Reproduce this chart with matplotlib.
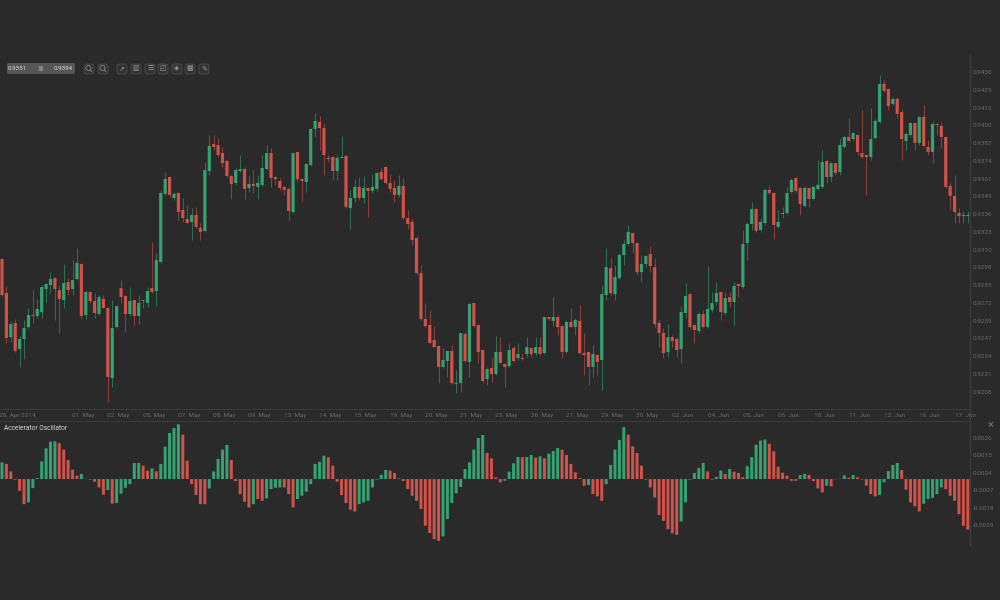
"""Candlestick chart with an Accelerator Oscillator panel on a dark terminal background."""

from __future__ import annotations

import matplotlib

matplotlib.use("Agg")

import matplotlib.pyplot as plt
import numpy as np
from matplotlib.patches import Ellipse, FancyBboxPatch, Rectangle

# candle values in 1/10000 of a price unit
body_top = [
    9303.5, 9279.0, 9256.8, 9257.5, 9246.0, 9253.9, 9263.3, 9263.3, 9267.6, 9283.4,
    9285.5, 9289.1, 9289.9, 9281.2, 9286.3, 9287.0, 9288.4, 9300.7, 9299.9, 9279.8,
    9279.8, 9273.3, 9276.2, 9274.8, 9268.3, 9253.9, 9269.7, 9282.6, 9277.0, 9273.3,
    9274.0, 9271.9, 9274.0, 9280.5, 9282.6, 9302.8, 9351.0, 9361.0, 9362.5, 9350.3,
    9351.0, 9338.8, 9332.3, 9335.2, 9335.2, 9325.8, 9367.5, 9384.8, 9386.2, 9385.5,
    9379.7, 9374.0, 9363.2, 9367.5, 9368.2, 9368.2, 9357.5, 9357.5, 9358.2, 9369.0,
    9379.7, 9379.7, 9362.5, 9359.6, 9355.4, 9353.9, 9379.7, 9380.5, 9361.0, 9371.8,
    9397.0, 9402.8, 9402.1, 9397.7, 9376.2, 9376.9, 9376.2, 9376.9, 9377.6, 9347.4,
    9355.4, 9355.4, 9354.6, 9354.6, 9355.4, 9365.4, 9366.1, 9369.7, 9358.2, 9354.6,
    9356.1, 9356.1, 9333.0, 9330.2, 9318.6, 9293.4, 9260.4, 9256.1, 9245.3, 9241.0,
    9230.9, 9237.4, 9237.4, 9214.3, 9250.3, 9249.6, 9271.2, 9271.9, 9256.1, 9238.1,
    9224.4, 9225.2, 9236.7, 9236.7, 9228.0, 9238.1, 9239.5, 9235.2, 9232.3, 9240.2,
    9239.5, 9240.2, 9240.2, 9261.8, 9261.8, 9261.8, 9261.8, 9255.3, 9258.2, 9258.2,
    9259.7, 9259.0, 9235.9, 9236.7, 9235.2, 9234.5, 9278.3, 9297.7, 9297.0, 9290.6,
    9306.4, 9314.3, 9323.0, 9322.2, 9315.0, 9299.9, 9305.7, 9307.1, 9297.7, 9257.5,
    9250.3, 9247.4, 9247.4, 9246.0, 9265.4, 9277.0, 9278.3, 9256.1, 9264.0, 9264.0,
    9267.6, 9271.9, 9279.0, 9279.8, 9275.5, 9276.2, 9284.1, 9285.5, 9314.3, 9328.7,
    9339.5, 9339.5, 9330.2, 9353.2, 9353.2, 9351.0, 9330.2, 9336.6, 9351.0, 9360.3,
    9361.8, 9354.6, 9354.6, 9354.6, 9355.4, 9356.8, 9373.3, 9374.0, 9372.5, 9372.5,
    9385.5, 9391.3, 9391.3, 9394.1, 9392.7, 9379.7, 9378.3, 9389.8, 9402.8, 9429.4,
    9429.4, 9425.8, 9418.6, 9418.6, 9409.2, 9393.4, 9401.3, 9401.3, 9405.7, 9405.7,
    9384.1, 9400.6, 9400.6, 9399.2, 9391.3, 9356.1, 9348.9, 9336.6, 9335.2, 9335.2,
]
body_bottom = [
    9277.6, 9246.7, 9247.4, 9237.4, 9238.8, 9246.0, 9254.6, 9262.6, 9262.6, 9265.4,
    9281.9, 9284.8, 9281.9, 9274.8, 9274.0, 9281.2, 9281.9, 9289.1, 9262.6, 9263.3,
    9273.3, 9264.7, 9264.0, 9268.3, 9218.7, 9218.0, 9254.6, 9276.2, 9264.0, 9264.0,
    9262.6, 9262.6, 9273.3, 9271.9, 9279.8, 9280.5, 9301.4, 9350.3, 9349.6, 9347.4,
    9337.3, 9333.0, 9329.4, 9330.2, 9326.6, 9323.0, 9323.7, 9366.8, 9384.1, 9378.3,
    9372.5, 9363.2, 9357.5, 9358.2, 9366.8, 9353.9, 9354.6, 9356.1, 9355.4, 9356.8,
    9368.2, 9361.8, 9361.0, 9354.6, 9353.2, 9338.1, 9337.3, 9361.0, 9359.6, 9358.9,
    9371.1, 9397.0, 9397.7, 9378.3, 9375.4, 9366.8, 9366.8, 9376.2, 9341.0, 9340.2,
    9347.4, 9347.4, 9347.4, 9352.5, 9352.5, 9353.9, 9361.0, 9358.2, 9353.9, 9349.6,
    9349.6, 9333.0, 9328.7, 9317.2, 9293.4, 9260.4, 9255.3, 9243.1, 9240.2, 9225.9,
    9225.9, 9230.2, 9214.3, 9213.6, 9214.3, 9230.2, 9229.5, 9255.3, 9236.7, 9215.8,
    9217.2, 9220.8, 9220.8, 9228.8, 9225.9, 9226.6, 9230.2, 9232.3, 9231.6, 9235.2,
    9235.2, 9235.9, 9235.2, 9235.9, 9260.4, 9259.0, 9254.6, 9236.7, 9236.7, 9254.6,
    9254.6, 9235.9, 9234.5, 9225.9, 9225.9, 9229.5, 9230.9, 9277.6, 9279.0, 9278.3,
    9289.9, 9306.4, 9314.3, 9315.0, 9294.1, 9294.1, 9299.9, 9298.5, 9256.8, 9250.3,
    9235.9, 9236.7, 9244.6, 9238.1, 9238.8, 9264.7, 9254.6, 9252.5, 9251.8, 9254.6,
    9254.6, 9266.9, 9272.6, 9265.4, 9264.7, 9272.6, 9272.6, 9284.1, 9283.4, 9315.0,
    9328.7, 9323.7, 9324.4, 9329.4, 9351.0, 9328.0, 9326.6, 9335.9, 9336.6, 9351.7,
    9352.5, 9343.1, 9341.7, 9346.7, 9346.7, 9353.9, 9355.4, 9362.5, 9362.5, 9365.4,
    9366.1, 9384.1, 9388.4, 9389.8, 9380.5, 9376.9, 9376.9, 9376.9, 9390.5, 9402.1,
    9424.4, 9413.6, 9415.0, 9407.8, 9389.8, 9388.4, 9392.7, 9387.0, 9387.0, 9384.8,
    9380.5, 9380.5, 9399.9, 9391.3, 9355.4, 9348.9, 9337.3, 9334.4, 9334.4, 9334.4,
]
wick_high = [
    9304.2, 9284.1, 9259.0, 9260.4, 9248.2, 9259.7, 9268.3, 9281.2, 9274.7, 9284.8,
    9286.3, 9294.2, 9290.6, 9284.8, 9299.9, 9289.9, 9302.8, 9311.4, 9300.7, 9280.5,
    9280.5, 9279.0, 9277.6, 9277.6, 9269.0, 9274.0, 9270.5, 9288.4, 9277.6, 9283.4,
    9274.8, 9277.6, 9274.0, 9283.4, 9315.8, 9307.9, 9353.2, 9366.1, 9363.2, 9351.7,
    9351.7, 9347.4, 9342.4, 9340.2, 9341.0, 9329.4, 9373.3, 9392.7, 9392.7, 9390.5,
    9384.1, 9374.7, 9363.9, 9368.9, 9378.3, 9369.7, 9363.9, 9367.5, 9363.9, 9378.3,
    9385.5, 9383.4, 9363.2, 9361.8, 9355.4, 9355.4, 9379.7, 9380.5, 9361.8, 9372.5,
    9397.7, 9408.5, 9406.4, 9401.3, 9378.3, 9377.6, 9378.3, 9392.0, 9378.3, 9353.2,
    9361.0, 9362.5, 9363.2, 9354.6, 9364.7, 9366.1, 9369.0, 9370.4, 9364.7, 9360.3,
    9363.9, 9361.8, 9338.8, 9333.0, 9320.1, 9299.2, 9271.9, 9266.9, 9255.3, 9241.7,
    9239.5, 9237.4, 9241.7, 9223.7, 9250.3, 9251.0, 9271.9, 9271.9, 9256.8, 9238.8,
    9225.9, 9233.1, 9248.2, 9247.4, 9228.8, 9243.1, 9241.0, 9243.1, 9236.0, 9247.4,
    9240.2, 9247.4, 9247.4, 9261.8, 9261.8, 9276.2, 9263.3, 9256.1, 9259.7, 9268.3,
    9261.1, 9270.5, 9250.3, 9236.7, 9241.7, 9235.2, 9284.8, 9311.4, 9304.2, 9299.2,
    9307.9, 9317.2, 9328.0, 9322.2, 9315.8, 9306.4, 9306.4, 9312.9, 9304.2, 9259.7,
    9253.9, 9256.8, 9248.9, 9247.4, 9269.7, 9286.3, 9279.8, 9256.8, 9265.4, 9266.9,
    9298.5, 9279.8, 9287.0, 9279.8, 9279.8, 9279.8, 9287.0, 9286.3, 9324.4, 9330.2,
    9344.5, 9340.2, 9333.0, 9354.6, 9356.8, 9351.7, 9338.8, 9340.9, 9355.4, 9361.8,
    9362.5, 9355.4, 9356.1, 9354.6, 9356.1, 9374.7, 9381.9, 9374.7, 9373.3, 9372.5,
    9390.5, 9392.0, 9405.0, 9394.9, 9393.4, 9410.7, 9378.3, 9412.1, 9404.2, 9435.9,
    9432.3, 9426.5, 9420.0, 9420.0, 9411.4, 9394.9, 9402.1, 9402.1, 9406.4, 9414.3,
    9389.1, 9402.8, 9401.3, 9402.1, 9391.3, 9358.2, 9363.9, 9340.2, 9338.1, 9338.1,
]
wick_low = [
    9276.9, 9243.1, 9243.8, 9236.7, 9225.9, 9231.6, 9253.9, 9257.5, 9261.1, 9261.1,
    9271.9, 9279.0, 9259.7, 9250.3, 9268.3, 9277.6, 9277.6, 9288.4, 9260.4, 9260.4,
    9271.9, 9261.1, 9263.3, 9268.3, 9200.7, 9211.5, 9253.9, 9271.9, 9251.0, 9262.6,
    9256.1, 9256.8, 9268.3, 9269.0, 9279.0, 9269.7, 9300.7, 9349.6, 9348.2, 9346.0,
    9331.6, 9330.2, 9329.4, 9317.2, 9325.8, 9317.2, 9323.0, 9363.9, 9381.9, 9376.9,
    9369.7, 9361.8, 9346.7, 9356.8, 9366.1, 9346.7, 9351.7, 9351.0, 9346.7, 9356.1,
    9367.5, 9355.4, 9356.8, 9353.2, 9349.6, 9331.6, 9336.6, 9358.9, 9344.5, 9351.7,
    9370.4, 9391.3, 9381.9, 9363.9, 9373.3, 9360.3, 9360.3, 9376.2, 9340.2, 9325.1,
    9344.5, 9346.0, 9343.8, 9333.7, 9351.0, 9352.5, 9360.3, 9357.5, 9351.7, 9344.5,
    9348.2, 9332.3, 9325.1, 9313.6, 9292.0, 9259.7, 9254.6, 9243.1, 9240.2, 9214.3,
    9225.2, 9218.7, 9213.6, 9207.2, 9207.9, 9229.5, 9218.7, 9254.6, 9228.8, 9214.3,
    9212.9, 9215.1, 9220.1, 9228.8, 9211.5, 9225.9, 9229.5, 9230.9, 9230.9, 9233.1,
    9233.1, 9234.5, 9234.5, 9235.2, 9259.7, 9255.3, 9248.9, 9232.3, 9235.9, 9254.6,
    9248.9, 9235.2, 9220.1, 9212.9, 9218.7, 9220.1, 9209.3, 9274.0, 9277.6, 9274.0,
    9289.1, 9299.2, 9313.6, 9307.9, 9292.0, 9287.0, 9297.7, 9294.1, 9254.6, 9240.2,
    9232.3, 9233.1, 9240.2, 9233.1, 9228.8, 9261.1, 9253.9, 9243.1, 9250.3, 9253.9,
    9253.9, 9265.4, 9270.5, 9259.7, 9263.3, 9269.0, 9256.1, 9276.2, 9282.6, 9302.8,
    9324.4, 9323.0, 9323.0, 9328.0, 9350.3, 9317.9, 9325.8, 9333.0, 9335.9, 9351.0,
    9351.7, 9335.2, 9341.0, 9341.0, 9346.0, 9353.2, 9354.6, 9358.2, 9358.9, 9363.9,
    9363.9, 9383.4, 9387.7, 9389.1, 9378.3, 9376.2, 9349.6, 9374.7, 9389.8, 9401.3,
    9423.6, 9410.7, 9414.3, 9405.0, 9374.7, 9381.9, 9391.3, 9381.9, 9385.5, 9384.1,
    9378.3, 9372.5, 9392.7, 9383.4, 9354.6, 9338.8, 9329.4, 9329.4, 9329.4, 9329.4,
]
candle_dir = (
    "RRGRGGGRGG" "GGRRGRGGRG" "RRGRRGGRRG" "RGGGRGGGRG" "RRRGRRGGRR"
    "RRRGGRGRGG" "GRRRRRGRRG" "GGRRRRGGRG" "GRGRGGRRRR" "GRRRRRRRRR"
    "GGRGGRGRRR" "GRGRRGRGRG" "RGRGRGRRGR" "GRRRGRGGRG" "GGGRRGGRRR"
    "RGRRGGRRGR" "GGGRGRGRGG" "GRGGRRGGGG" "RRGRGGGRGR" "GGRGRRRGGG"
    "RRGRRGGRGR" "RGRRRRRRGG"
)

# oscillator values in 1/100000
osc_values = [
    105, 95, 48, -4, -74, -158, -147, -57, 6, 111,
    193, 235, 237, 225, 185, 120, 59, 21, 32, 2,
    -4, -17, -53, -99, -69, -155, -151, -92, -55, -32,
    101, 101, 84, 53, 67, 48, 95, 204, 290, 321,
    344, 279, 116, -32, -101, -158, -158, -59, 48, 126,
    185, 214, 120, -13, -95, -143, -179, -158, -126, -137,
    -122, -63, -55, -53, -53, -95, -179, -126, -105, -80,
    -32, 95, 109, 147, 137, 84, -17, -101, -151, -193,
    -204, -158, -147, -137, -53, -4, 27, 57, 53, 38,
    4, -13, -63, -105, -137, -189, -294, -340, -378, -389,
    -361, -252, -151, -90, -50, 63, 105, 185, 258, 277,
    164, 130, 11, -21, -11, 46, 99, 139, 137, 139,
    151, 134, 143, 130, 160, 176, 195, 185, 151, 95,
    42, 6, -42, -38, -95, -109, -137, -32, 88, 185,
    246, 326, 279, 206, 164, 84, -4, -53, -116, -227,
    -263, -315, -342, -351, -267, -147, -4, 38, 69, 101,
    48, -4, 13, 53, 32, 63, 46, 38, 11, 80,
    137, 216, 242, 248, 221, 174, 78, 40, 21, -11,
    -11, 25, 32, 25, -13, -59, -84, -42, -46, -2,
    2, 23, 8, 25, 11, -4, -42, -95, -109, -101,
    -21, 50, 88, 101, 57, -67, -147, -172, -204, -155,
    -126, -118, -95, -53, -63, -105, -137, -221, -294, -319,
]
osc_dir = (
    "GRRRRRGGGG" "GGGRRRRRGG" "RRRRGRGGGG" "GGRRGRGGGG" "GRRRRRRGGG"
    "GGRRRRRGRR" "GGGGRRRGGG" "GGGGRRRRRR" "RGGGGGGGRR" "RRRRRRRRRR"
    "GGGGGGGGGG" "RRRRGGGGRG" "GRGRGGGRRR" "RRRGRRRGGG" "GGRRRRRRRR"
    "RRRRGGGGGG" "RRGGRGRRRG" "GGGGRRRRRR" "RGGRRRRGRR" "GGRGRRRRRG"
    "GGGGRRRRRG" "GGGGRRRRRR"
)

price_ticks = [
    0.9438, 0.9425, 0.9412, 0.9400, 0.9387, 0.9374, 0.9361, 0.9349, 0.9336, 0.9323,
    0.9310, 0.9298, 0.9285, 0.9272, 0.9259, 0.9247, 0.9234, 0.9221, 0.9208,
]
osc_ticks = [0.0026, 0.0015, 0.0004, -0.0007, -0.0018, -0.0029]
date_labels = [
    "28. Apr 2014", "01. May", "02. May", "05. May", "07. May", "08. May", "09. May",
    "13. May", "14. May", "15. May", "19. May", "20. May", "21. May", "23. May",
    "26. May", "27. May", "29. May", "30. May", "02. Jun", "04. Jun", "05. Jun",
    "06. Jun", "10. Jun", "11. Jun", "12. Jun", "16. Jun", "17. Jun",
]

BG = "#2a2a2a"
GREEN = "#35a272"
RED = "#d0524a"
TICK_COLOR = "#6b6b6b"
LINE_COLOR = "#3f3f3f"
FONT = "Roboto"
WIDTH, HEIGHT = 1000, 600


def px_axes(fig, left, top, right, bottom):
    """Axes placed by pixel edges, origin at the top left of the picture."""
    return fig.add_axes(
        [left / WIDTH, 1 - bottom / HEIGHT, (right - left) / WIDTH, (bottom - top) / HEIGHT]
    )


def style_axes(ax):
    ax.set_facecolor(BG)
    for spine in ax.spines.values():
        spine.set_visible(False)
    ax.tick_params(length=0, labelsize=4.6, labelcolor=TICK_COLOR)
    ax.yaxis.tick_right()
    for label in ax.get_xticklabels() + ax.get_yticklabels():
        label.set_fontfamily(FONT)


def draw_toolbar(fig):
    """The small range box and icon buttons at the top left."""
    to_fig = lambda x, y: (x / WIDTH, 1 - y / HEIGHT)
    box = FancyBboxPatch(
        to_fig(7, 74), 68 / WIDTH, 11 / HEIGHT, transform=fig.transFigure,
        boxstyle="round,pad=0,rounding_size=0.002", fc="#565656", ec="none",
    )
    fig.add_artist(box)
    for x, text in ((17, "0.9351"), (63, "0.9394")):
        fig.text(*to_fig(x, 68.5), text, color="#dddddd", fontsize=4.4, family=FONT,
                 ha="center", va="center")
    fig.add_artist(Rectangle(to_fig(39, 70.5), 4 / WIDTH, 4 / HEIGHT,
                             transform=fig.transFigure, fc="#858585", ec="none"))

    # zoom buttons: a small lens drawn as a shape
    for x in (89, 103):
        fig.add_artist(FancyBboxPatch(
            to_fig(x - 5, 74), 10 / WIDTH, 10 / HEIGHT, transform=fig.transFigure,
            boxstyle="round,pad=0,rounding_size=0.004", fc="#323232", ec="#555555", lw=0.5,
        ))
        fig.add_artist(Ellipse(to_fig(x - 0.5, 68), 5 / WIDTH, 5 / HEIGHT,
                               transform=fig.transFigure, fc="none", ec="#9a9a9a", lw=0.5))
        fig.add_artist(plt.Line2D([(x + 1.3) / WIDTH, (x + 3) / WIDTH],
                                  [1 - 70 / HEIGHT, 1 - 71.7 / HEIGHT], color="#9a9a9a", lw=0.5))

    glyphs = ["↗", "▥", "☰", "◰", "◈", "▦", "✎"]
    for x, glyph in zip((122, 136, 150, 163, 177, 190, 204), glyphs):
        button = FancyBboxPatch(
            to_fig(x - 5, 74), 10 / WIDTH, 10 / HEIGHT, transform=fig.transFigure,
            boxstyle="round,pad=0,rounding_size=0.003", fc="#323232", ec="#555555", lw=0.5,
        )
        fig.add_artist(button)
        fig.text(*to_fig(x, 68.5), glyph, color="#9a9a9a", fontsize=5, family="DejaVu Sans",
                 ha="center", va="center")


def main():
    top = np.array(body_top) / 1e4
    bottom = np.array(body_bottom) / 1e4
    high = np.array(wick_high) / 1e4
    low = np.array(wick_low) / 1e4
    osc = np.array(osc_values) / 1e5
    idx = np.arange(len(top))
    candle_colors = [GREEN if c == "G" else RED for c in candle_dir]
    osc_colors = [GREEN if c == "G" else RED for c in osc_dir]

    fig = plt.figure(figsize=(WIDTH / 100, HEIGHT / 100), dpi=100, facecolor=BG)

    ax = px_axes(fig, 0, 55, 970, 408)
    ax.vlines(idx, low, high, colors=candle_colors, linewidth=0.7, alpha=0.6)
    ax.bar(idx, top - bottom, bottom=bottom, width=0.72, color=candle_colors, linewidth=0, snap=False)
    ax.set_xlim(-0.45, 219.5)
    ax.set_ylim(0.91964, 0.94502)
    ax.set_yticks(price_ticks, [f"{v:.4f}" for v in price_ticks])
    date_pos = [3.5] + [18.4 + 8 * k for k in range(len(date_labels) - 1)]
    ax.set_xticks(date_pos, date_labels)
    style_axes(ax)
    ax.tick_params(axis="x", pad=3.5)
    ax.tick_params(axis="y", pad=2.2)

    osc_ax = px_axes(fig, 0, 421, 970, 545)
    osc_ax.bar(idx, osc, width=0.68, color=osc_colors, linewidth=0, snap=False)
    osc_ax.set_xlim(-0.45, 219.5)
    osc_ax.set_ylim(-0.00415, 0.00365)
    osc_ax.set_xticks([])
    osc_ax.set_yticks(osc_ticks, [f"{v:.4f}" for v in osc_ticks])
    style_axes(osc_ax)
    osc_ax.tick_params(axis="y", pad=2.2)
    fig.text(4 / WIDTH, 1 - 428 / HEIGHT, "Accelerator Oscillator", color="#d8d8d8",
             fontsize=4.8, family=FONT, va="center")
    fig.text(991 / WIDTH, 1 - 424 / HEIGHT, "×", color="#777777", fontsize=8, family=FONT,
             ha="center", va="center")

    # frame lines around the date strip and the right scale
    for y in (409, 420.5):
        fig.add_artist(plt.Line2D([0, 970 / WIDTH], [1 - y / HEIGHT] * 2, color=LINE_COLOR, lw=0.6))
    fig.add_artist(plt.Line2D([970 / WIDTH] * 2, [1 - 545 / HEIGHT, 1 - 55 / HEIGHT],
                              color=LINE_COLOR, lw=0.8))

    draw_toolbar(fig)
    fig.savefig("out.png", dpi=100, facecolor=BG)
    plt.close(fig)


if __name__ == "__main__":
    main()
